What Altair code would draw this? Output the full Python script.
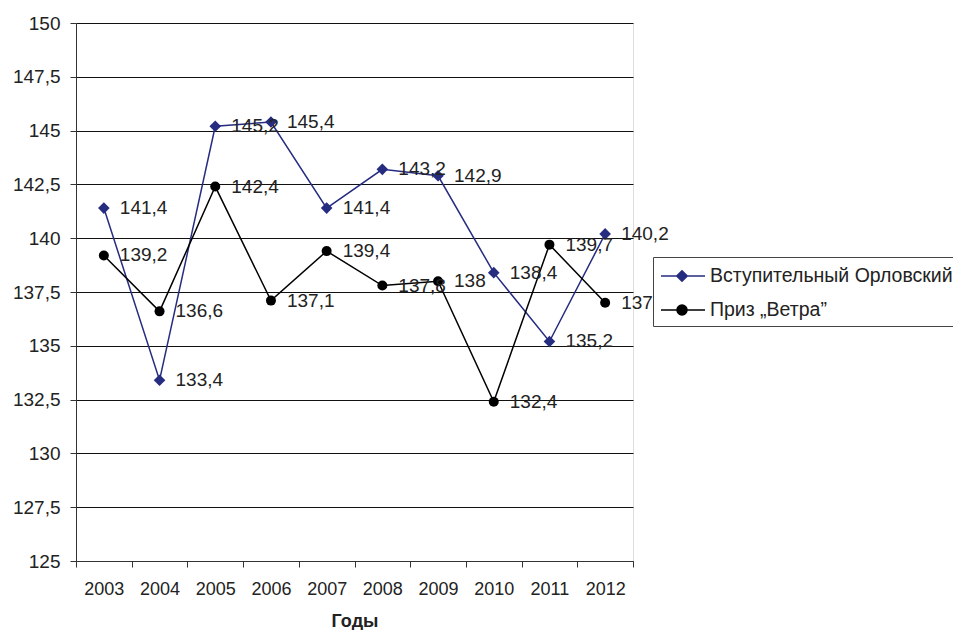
import altair as alt
import pandas as pd

years = ["2003", "2004", "2005", "2006", "2007", "2008", "2009", "2010", "2011", "2012"]
series_names = ["Вступительный Орловский", "Приз „Ветра”"]
orlovsky = [141.4, 133.4, 145.2, 145.4, 141.4, 143.2, 142.9, 138.4, 135.2, 140.2]
veter = [139.2, 136.6, 142.4, 137.1, 139.4, 137.8, 138.0, 132.4, 139.7, 137.0]
y_ticks = [125, 127.5, 130, 132.5, 135, 137.5, 140, 142.5, 145, 147.5, 150]
colors = ["#262C80", "#000000"]
marker_shapes = ["diamond", "circle"]
marker_sizes = [135, 100]

rows = []
for name, vals in zip(series_names, [orlovsky, veter]):
    for yr, v in zip(years, vals):
        rows.append({"year": yr, "series": name, "value": v})
df = pd.DataFrame(rows)

FONT = "Liberation Sans"
TXT = "#222222"

# legend symbols: a short line with the marker in its middle
P1 = "M-0.917,0H2.75M0.833,-0.44L1.273,0L0.833,0.44L0.393,0Z"
P2 = "M-0.917,0H2.75M1.25,0A0.417,0.417 0 1 1 0.416,0A0.417,0.417 0 1 1 1.25,0Z"

def make_legend():
    return alt.Legend(
        title=None, orient="none", legendX=577, legendY=234, direction="vertical",
        fillColor="white", strokeColor="#444444", padding=6, rowPadding=11,
        symbolSize=576, symbolStrokeWidth=1.5, labelOffset=25, symbolOpacity=1,
        labelFont=FONT, labelFontSize=19.5, labelColor=TXT, labelLimit=500,
    )

x_enc = alt.X(
    "year:O", title="Годы", bandPosition=0.5,
    scale=alt.Scale(type="band", paddingInner=0, paddingOuter=0, domain=years),
    axis=alt.Axis(tickBand="extent", labelAngle=0, grid=False, tickSize=6,
                  tickColor="#333333", domainColor="#333333", labelPadding=13,
                  labelFont=FONT, labelFontSize=18, labelColor=TXT,
                  titleFont=FONT, titleFontSize=18, titleFontWeight="bold",
                  titleColor=TXT, titlePadding=14),
)
y_enc = alt.Y(
    "value:Q", title=None,
    scale=alt.Scale(domain=[125, 150], nice=False, zero=False),
    axis=alt.Axis(values=y_ticks, labelExpr="replace(format(datum.value, '~g'), '.', ',')",
                  grid=True, gridColor="#111111", gridWidth=1, tickSize=6,
                  tickColor="#333333", domainColor="#333333", labelPadding=10,
                  labelFont=FONT, labelFontSize=19, labelColor=TXT),
)

base = alt.Chart(df)
layers = []
for name, col, shp, sz in zip(series_names, colors, marker_shapes, marker_sizes):
    sub = base.transform_filter(alt.datum.series == name)
    layers.append(sub.mark_line(strokeWidth=1.5, color=col).encode(x=x_enc, y=y_enc))
    layers.append(sub.mark_point(filled=True, opacity=1, shape=shp, size=sz, color=col).encode(x=x_enc, y=y_enc))

labels = base.transform_calculate(
    lab="replace(format(datum.value, '~g'), '.', ',')"
).mark_text(align="left", baseline="middle", dx=16, font=FONT, fontSize=19, color=TXT).encode(
    x=x_enc, y=y_enc, text="lab:N"
)
layers.append(labels)

# empty layer that only carries the legend (line + marker symbols)
legend_layer = base.transform_filter("false").mark_point(
    filled=True, opacity=1, strokeWidth=1.5
).encode(
    x=x_enc, y=y_enc,
    color=alt.Color("series:N", scale=alt.Scale(domain=series_names, range=colors), legend=make_legend()),
    stroke=alt.Stroke("series:N", scale=alt.Scale(domain=series_names, range=colors), legend=make_legend()),
    shape=alt.Shape("series:N", scale=alt.Scale(domain=series_names, range=[P1, P2]), legend=make_legend()),
)
layers.append(legend_layer)

chart = alt.layer(*layers).properties(
    width=557, height=538,
    autosize=alt.AutoSizeParams(type="none"),
    padding={"left": 68, "top": 15, "right": 320, "bottom": 69},
).configure_view(stroke=None).configure(background="white")

chart.save("out.html", embed_options={"renderer": "svg", "actions": False})
